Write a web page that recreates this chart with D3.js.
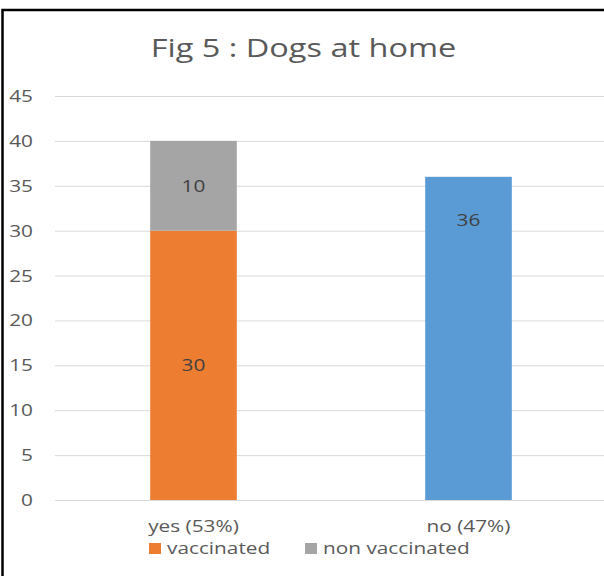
<!DOCTYPE html>
<html>
<head>
<meta charset="utf-8">
<script src="https://cdn.jsdelivr.net/npm/d3@7"></script>
<style>
	html, body { margin: 0; padding: 0; background: #fff; }
	svg { display: block; font-family: 'Open Sans', sans-serif; }
</style>
</head>
<body>
<div id="chart"></div>
<script>
const chartTitle = 'Fig 5 : Dogs at home'
const categories = ['yes (53%)', 'no (47%)']
const vaccinated = [30, 0]
const nonVaccinated = [10, 0]
const noDogs = [0, 36]
const yTicks = [0, 5, 10, 15, 20, 25, 30, 35, 40, 45]
const legendNames = ['vaccinated', 'non vaccinated']

const palette = {vaccinated: '#ED7D31', nonVaccinated: '#A5A5A5', noDogs: '#5B9BD5'}
const keys = ['vaccinated', 'nonVaccinated', 'noDogs']
const labelPlacement = {vaccinated: 'center', nonVaccinated: 'center', noDogs: 'insideEnd'}

const width = 604
const height = 576
const margin = {left: 55, right: -1, top: 96, bottom: 76}
const stretch = 1.3 // the source picture is squeezed wider than the font

const rows = categories.map((c, i) => ({
	category: c,
	vaccinated: vaccinated[i],
	nonVaccinated: nonVaccinated[i],
	noDogs: noDogs[i]
}))

const svg = d3.select('#chart').append('svg')
	.attr('width', width)
	.attr('height', height)

const x = d3.scaleBand()
	.domain(categories)
	.range([margin.left + 1, width - margin.right + 1])
	.paddingInner(0.685)
	.paddingOuter(0.3425)

const y = d3.scaleLinear()
	.domain([0, 45])
	.range([height - margin.bottom, margin.top])

function label(parent, px, py, text, {size = 16, color = '#595959', anchor = 'middle'} = {}) {
	return parent.append('text')
		.attr('transform', `translate(${px},${py}) scale(${stretch},1)`)
		.attr('text-anchor', anchor)
		.attr('font-size', size)
		.attr('fill', color)
		.text(text)
}

// frame (only the left and top edges fall inside the picture)
svg.append('rect')
	.attr('x', 2.5).attr('y', 10)
	.attr('width', width + 20).attr('height', height + 20)
	.attr('fill', 'none')
	.attr('stroke', '#000')
	.attr('stroke-width', 2.5)

label(svg, 303.5, 57, chartTitle, {size: 25})

// gridlines + tick labels
const yAxis = d3.axisLeft(y)
	.tickValues(yTicks)
	.tickSize(-(width - margin.left))
	.tickFormat('')

svg.append('g')
	.attr('transform', `translate(${margin.left},0)`)
	.call(yAxis)
	.call(g => g.select('.domain').remove())
	.call(g => g.selectAll('.tick line').attr('stroke', '#D9D9D9').attr('stroke-width', 1))

const tickLabels = svg.append('g')
yTicks.forEach(t => label(tickLabels, 33, y(t) + 6, t, {anchor: 'end'}))

// bars
const stacked = d3.stack().keys(keys)(rows)
const bars = svg.append('g')
stacked.forEach(layer => {
	bars.selectAll(null)
		.data(layer.filter(d => d[1] > d[0]))
		.enter().append('rect')
		.attr('x', d => x(d.data.category))
		.attr('y', d => y(d[1]))
		.attr('width', x.bandwidth())
		.attr('height', d => y(d[0]) - y(d[1]))
		.attr('fill', palette[layer.key])
})

// data labels
const dataLabels = svg.append('g')
stacked.forEach(layer => {
	layer.filter(d => d[1] > d[0]).forEach(d => {
		const cx = x(d.data.category) + x.bandwidth() / 2
		const cy = labelPlacement[layer.key] == 'center'
			? (y(d[0]) + y(d[1])) / 2 + 6
			: y(d[1]) + 49
		label(dataLabels, cx, cy, d[1] - d[0], {color: '#404040'})
	})
})

// category labels
const catLabels = svg.append('g')
categories.forEach(c => label(catLabels, x(c) + x.bandwidth() / 2, 532, c))

// legend
const legend = svg.append('g')
const legendX = [149, 305]
legendNames.forEach((name, i) => {
	legend.append('rect')
		.attr('x', legendX[i]).attr('y', 543)
		.attr('width', 12).attr('height', 11)
		.attr('fill', palette[keys[i]])
	label(legend, legendX[i] + 18, 554, name, {anchor: 'start'})
})
</script>
</body>
</html>
